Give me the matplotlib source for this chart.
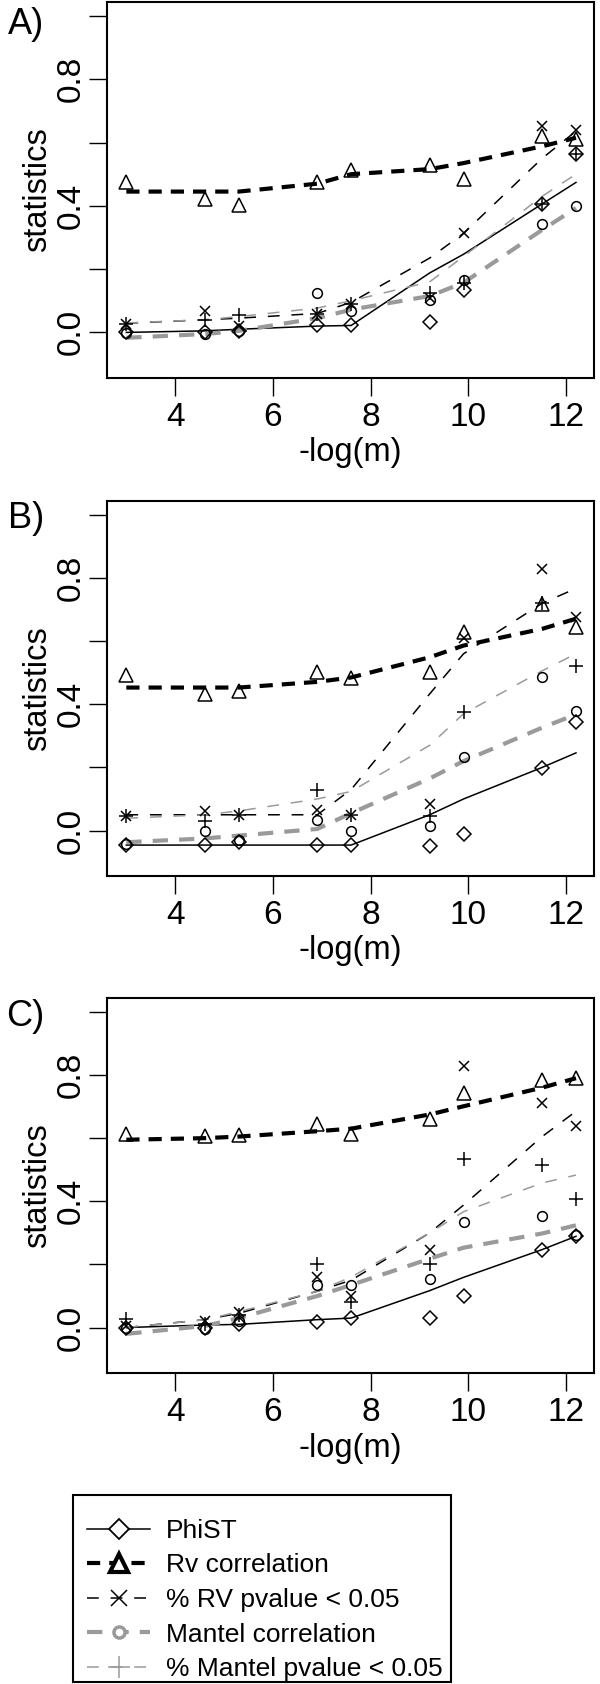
import matplotlib
matplotlib.use("Agg")
import matplotlib.pyplot as plt
from matplotlib.lines import Line2D
from matplotlib.patches import Rectangle

plt.rcParams['font.family'] = ['Liberation Sans', 'DejaVu Sans']
plt.rcParams['lines.scale_dashes'] = False

# -log(m)
x = [2.996, 4.605, 5.298, 6.908, 7.601, 9.210, 9.903, 11.513, 12.206]

panel_labels = ["A)", "B)", "C)"]
series_names = ["PhiST", "Rv correlation", "% RV pvalue < 0.05",
                "Mantel correlation", "% Mantel pvalue < 0.05"]

# ---- Panel A ----
A_phist_pts = [0.0, 0.0, 0.006, 0.022, 0.024, 0.033, 0.133, 0.406, 0.565]
A_phist_fit = [0.0, 0.005, 0.01, 0.02, 0.022, 0.188, 0.247, 0.406, 0.474]
A_rv_pts = [0.474, 0.421, 0.403, 0.474, 0.514, 0.528, 0.485, 0.622, 0.610]
A_rv_fit = [0.445, 0.445, 0.445, 0.470, 0.500, 0.516, 0.535, 0.588, 0.615]
A_rvp_pts = [0.027, 0.068, 0.020, 0.059, 0.091, 0.110, 0.313, 0.652, 0.641]
A_rvp_fit = [0.029, 0.040, 0.045, 0.060, 0.095, 0.235, 0.313, 0.550, 0.636]
A_man_pts = [-0.002, -0.004, 0.006, 0.125, 0.068, 0.104, 0.167, 0.343, 0.401]
A_man_fit = [-0.017, -0.005, 0.005, 0.045, 0.072, 0.115, 0.157, 0.324, 0.393]
A_manp_pts = [0.027, 0.040, 0.054, 0.059, 0.091, 0.125, 0.157, 0.406, 0.565]
A_manp_fit = [0.030, 0.040, 0.050, 0.077, 0.100, 0.160, 0.240, 0.430, 0.500]

# ---- Panel B ----
B_phist_pts = [-0.046, -0.046, -0.035, -0.046, -0.046, -0.049, -0.011, 0.198, 0.345]
B_phist_fit = [-0.046, -0.046, -0.046, -0.046, -0.046, 0.050, 0.100, 0.200, 0.246]
B_rv_pts = [0.493, 0.434, 0.443, 0.503, 0.482, 0.503, 0.628, 0.719, 0.644]
B_rv_fit = [0.453, 0.453, 0.453, 0.471, 0.485, 0.549, 0.586, 0.639, 0.671]
B_rvp_pts = [0.045, 0.063, 0.050, 0.066, 0.050, 0.084, 0.610, 0.827, 0.676]
B_rvp_fit = [0.050, 0.050, 0.050, 0.050, 0.130, 0.433, 0.560, 0.720, 0.767]
B_man_pts = [-0.044, -0.003, -0.030, 0.034, -0.003, 0.013, 0.232, 0.487, 0.379]
B_man_fit = [-0.037, -0.025, -0.016, 0.005, 0.055, 0.165, 0.220, 0.326, 0.368]
B_manp_pts = [0.045, 0.029, 0.050, 0.130, 0.050, 0.045, 0.374, 0.720, 0.522]
B_manp_fit = [0.039, 0.050, 0.062, 0.100, 0.124, 0.270, 0.370, 0.506, 0.560]

# ---- Panel C ----
C_phist_pts = [0.0, 0.0, 0.012, 0.019, 0.030, 0.030, 0.100, 0.247, 0.289]
C_phist_fit = [0.0, 0.008, 0.010, 0.025, 0.030, 0.117, 0.159, 0.247, 0.289]
C_rv_pts = [0.614, 0.606, 0.611, 0.646, 0.614, 0.661, 0.744, 0.784, 0.792]
C_rv_fit = [0.595, 0.600, 0.605, 0.622, 0.630, 0.675, 0.701, 0.760, 0.790]
C_rvp_pts = [0.005, 0.021, 0.048, 0.159, 0.100, 0.245, 0.827, 0.710, 0.638]
C_rvp_fit = [0.000, 0.025, 0.045, 0.115, 0.150, 0.300, 0.388, 0.605, 0.685]
C_man_pts = [0.0, -0.005, 0.020, 0.136, 0.136, 0.154, 0.333, 0.353, 0.292]
C_man_fit = [-0.020, 0.005, 0.030, 0.100, 0.135, 0.218, 0.253, 0.298, 0.324]
C_manp_pts = [0.027, 0.010, 0.040, 0.200, 0.080, 0.200, 0.535, 0.515, 0.407]
C_manp_fit = [0.000, 0.025, 0.050, 0.115, 0.160, 0.300, 0.367, 0.458, 0.483]

panels = [
    (A_phist_pts, A_phist_fit, A_rv_pts, A_rv_fit, A_rvp_pts, A_rvp_fit,
     A_man_pts, A_man_fit, A_manp_pts, A_manp_fit),
    (B_phist_pts, B_phist_fit, B_rv_pts, B_rv_fit, B_rvp_pts, B_rvp_fit,
     B_man_pts, B_man_fit, B_manp_pts, B_manp_fit),
    (C_phist_pts, C_phist_fit, C_rv_pts, C_rv_fit, C_rvp_pts, C_rvp_fit,
     C_man_pts, C_man_fit, C_manp_pts, C_manp_fit),
]

GREY = '#9a9a9a'
W, H = 600, 1684
fig = plt.figure(figsize=(W / 100, H / 100), dpi=100)

# axes boxes in pixels: (left, top, right, bottom)
boxes = [(107, 2, 594, 378), (107, 501, 594, 876), (107, 998, 594, 1373)]
letter_pos = [(26, 24), (26, 518), (25, 1016)]

line_styles = [
    dict(color='black', lw=1.1, ls='-'),
    dict(color='black', lw=3.0, dashes=(9.5, 6.5)),
    dict(color='black', lw=1.1, dashes=(8.5, 8.5)),
    dict(color=GREY, lw=3.0, dashes=(11, 8)),
    dict(color=GREY, lw=1.1, dashes=(8.5, 8.5)),
]
marker_styles = [
    dict(marker='D', ms=7.5),
    dict(marker='^', ms=10.5),
    dict(marker='x', ms=7.5),
    dict(marker='o', ms=7),
    dict(marker='+', ms=9.5),
]

FS = 24
LFS = 23.5
for i, (data, (l, t, r, b)) in enumerate(zip(panels, boxes)):
    ax = fig.add_axes([l / W, 1 - b / H, (r - l) / W, (b - t) / H])
    for k in range(5):
        pts = data[2 * k]
        fit = data[2 * k + 1]
        ax.plot(x, fit, **line_styles[k], zorder=2)
        ax.plot(x, pts, ls='none', mfc='none', mec='black', mew=1.1,
                **marker_styles[k], zorder=3)
    ax.set_xlim(2.6, 12.575)
    ax.set_ylim(-0.144, 1.044)
    ax.set_xticks([4, 6, 8, 10, 12])
    ax.set_yticks([0.0, 0.2, 0.4, 0.6, 0.8, 1.0])
    ax.set_yticklabels(['0.0', '', '0.4', '', '0.8', ''])
    ax.tick_params(axis='both', length=13, width=1.0, labelsize=FS,
                   direction='out', color='black')
    ax.tick_params(axis='x', pad=4)
    ax.tick_params(axis='y', pad=1.3)
    for lab in ax.get_yticklabels():
        lab.set_rotation(90)
        lab.set_va('center')
    for s in ax.spines.values():
        s.set_linewidth(1.5)
    ax.set_xlabel('-log(m)', fontsize=LFS, va='center')
    ax.xaxis.set_label_coords(0.5, -(75) / (b - t))
    ax.set_ylabel('statistics', fontsize=LFS, va='center')
    ax.yaxis.set_label_coords((38 - l) / (r - l), 0.5)
    lx, ly = letter_pos[i]
    fig.text(lx / W, 1 - ly / H, panel_labels[i], fontsize=26,
             ha='center', va='center')

# legend
handles = [
    Line2D([], [], color='black', lw=1.1, marker='D', ms=10, mfc='white',
           mec='black', mew=1.3),
    Line2D([], [], color='black', lw=3.0, dashes=(9.5, 6.5), marker='^', ms=13,
           mfc='white', mec='black', mew=3.0),
    Line2D([], [], color='black', lw=1.1, dashes=(8.5, 8.5), marker='x', ms=11,
           mec='black', mew=1.1),
    Line2D([], [], color=GREY, lw=3.0, dashes=(11, 8), marker='o', ms=8,
           mfc='white', mec=GREY, mew=2.5),
    Line2D([], [], color=GREY, lw=1.1, dashes=(8.5, 8.5), marker='+', ms=16,
           mec=GREY, mew=1.1),
]

LEG_FS = 19
fs_px = LEG_FS * 100 / 72
target_pitch = 34.5          # px between legend rows
target_first = 1531          # px from top, centre of first row's text box
legend_left = 87             # px, start of handle lines


def make_legend(ls, top_px):
    return fig.legend(handles, series_names, loc='upper left',
                      bbox_to_anchor=(legend_left / W, 1 - top_px / H),
                      borderaxespad=0, fontsize=LEG_FS, frameon=False,
                      handlelength=63 / fs_px, handletextpad=16 / fs_px,
                      labelspacing=ls, borderpad=0, numpoints=1)


ls = 0.3
top = 1515
leg = make_legend(ls, top)
for _ in range(3):
    fig.canvas.draw()
    rend = fig.canvas.get_renderer()
    tb = [t.get_window_extent(rend) for t in leg.get_texts()]
    c0 = H - (tb[0].y0 + tb[0].y1) / 2
    c4 = H - (tb[-1].y0 + tb[-1].y1) / 2
    pitch = (c4 - c0) / 4
    ls = ls + (target_pitch - pitch) / fs_px
    top = top + (target_first - c0)
    leg.remove()
    leg = make_legend(ls, top)

# legend frame
fig.add_artist(Rectangle((73 / W, 1 - 1682 / H), (451 - 73) / W, 187 / H,
                         transform=fig.transFigure, fill=False,
                         edgecolor='black', linewidth=1.5))

fig.savefig('out.png', dpi=100)
